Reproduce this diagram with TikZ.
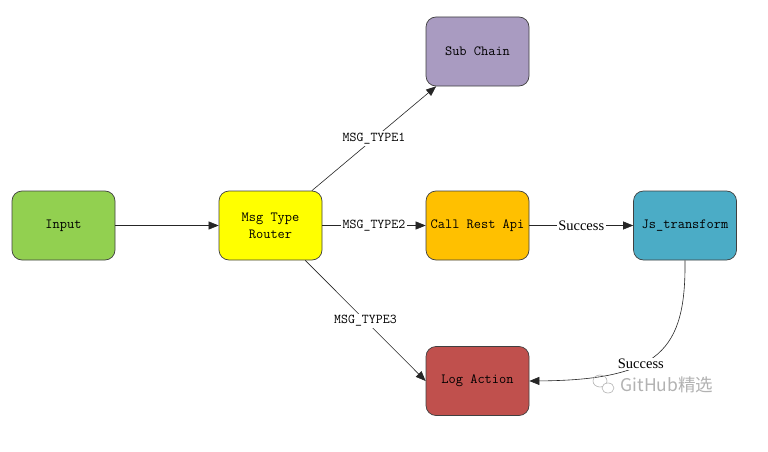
\documentclass[tikz,border=0pt]{standalone}
\usepackage{fontspec}
\setmainfont{Liberation Serif}
\setmonofont{Latin Modern Mono}
\newfontfamily\cjkwm{Noto Sans CJK SC}
\usetikzlibrary{arrows.meta}
\definecolor{cInput}{HTML}{92D050}
\definecolor{cRouter}{HTML}{FFFF00}
\definecolor{cSub}{HTML}{A99BC1}
\definecolor{cCall}{HTML}{FFC000}
\definecolor{cJs}{HTML}{4BACC6}
\definecolor{cLog}{HTML}{C0504D}
\tikzset{
  box/.style={draw=black!75, line width=0.7pt, rounded corners=10pt,
    minimum width=103pt, minimum height=69pt, inner sep=0pt,
    align=center, font=\ttfamily\fontsize{14}{17}\selectfont},
  edge/.style={draw=black!85, line width=0.6pt, -{Triangle[length=10pt,width=8pt]}},
  elabel/.style={fill=white, inner sep=1.5pt, font=\ttfamily\fontsize{13.5}{14}\selectfont},
  slabel/.style={fill=white, inner sep=1.5pt, font=\fontsize{14.5}{15}\selectfont},
}
\begin{document}
\begin{tikzpicture}[x=1pt,y=-1pt]
\useasboundingbox[fill=white] (0,0) rectangle (768,452);
\node[box, fill=cInput]  (input)  at (63.5,225.5) {Input};
\node[box, fill=cRouter] (router) at (270.5,225.5) {Msg Type\\Router};
\node[box, fill=cSub]    (sub)    at (477.5,51.5) {Sub Chain};
\node[box, fill=cCall]   (call)   at (477.5,225.5) {Call Rest Api};
\node[box, fill=cJs]     (js)     at (685,225.5) {Js\_transform};
\node[box, fill=cLog]    (log)    at (477.5,381) {Log Action};

\draw[edge] (input) -- (router);
\draw[edge] (router) -- node[elabel] {MSG\_TYPE1} (sub);
\draw[edge] (router) -- node[elabel] {MSG\_TYPE2} (call);
\draw[edge] (router) -- node[elabel] {MSG\_TYPE3} (log.west);
\draw[edge] (call) -- node[slabel] {Success} (js);
\draw[edge] (js.south) .. controls (686,350) and (660,380) .. node[slabel, pos=0.6] {Success} (log.east);

% watermark
\node[text=black!30, font=\cjkwm\fontsize{17.5}{19}\selectfont, anchor=west] (wm) at (617,385) {GitHub精选};
\draw[black!30, line width=0.6pt] (600,381) ellipse (7pt and 6pt);
\draw[black!30, line width=0.6pt, fill=white] (608,388) ellipse (6pt and 5pt);
\end{tikzpicture}
\end{document}
